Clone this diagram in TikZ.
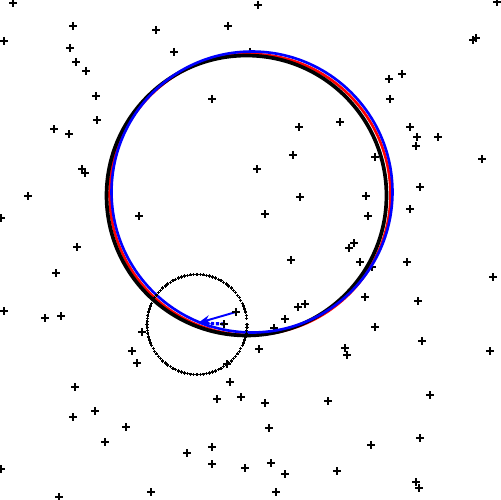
\documentclass[tikz,border=0pt]{standalone}
\usetikzlibrary{arrows.meta}
\begin{document}
\begin{tikzpicture}[x=0.02cm, y=-0.02cm, >=Stealth,
  pluspt/.style={line width=0.6pt},
  tinypt/.style={line width=0.7pt},
  fitline/.style={line width=2.1pt}]

\useasboundingbox (0,0) rectangle (500,500);

% Data points
\foreach \x/\y in {13/3,73/26,4/41,156/30,228/26,70/48,174/52,76/62,86/71,96/96,
    212/99,97/120,54/129,69/134,82/169,85/173,28/196,1/218,139/216,77/247,
    258/5,497/2,473/40,476/38,402/74,389/79,390/99,299/127,340/122,410/127,
    417/137,438/137,416/146,293/155,375/157,482/159,257/169,420/187,300/197,
    366/196,410/209,265/214,368/216,354/243,349/248,250/52,
    56/273,4/311,45/318,61/316,142/332,132/351,137/363,227/364,230/382,
    217/399,241/397,75/387,73/417,95/411,126/427,105/442,187/453,212/447,
    212/464,245/468,1/469,151/492,59/497,
    291/260,360/262,407/262,372/267,493/277,365/297,418/301,298/307,305/304,
    285/319,274/328,375/327,422/341,259/349,345/348,347/355,490/351,430/395,
    265/403,328/401,269/428,420/438,371/445,271/463,337/471,285/474,416/482,
    419/488,276/492}
  \draw[pluspt] (\x-4,\y) -- (\x+4,\y) (\x,\y-4) -- (\x,\y+4);

% Fitted circles
\draw[red, line width=1.5pt] (250,194.5) circle[radius=2.81cm];
\draw[black, fitline] (246.5,195.5) circle[radius=2.8cm];
\draw[blue, line width=1.5pt] (252,192) circle[radius=2.81cm];

% Neighbourhood of the touching point
\foreach \a in {0,3.6,...,356.4}
  \draw[tinypt] ([shift={(\a:50)}]197,324.5) ++(-1.6,0) -- ++(3.2,0) ++(-1.6,-1.6) -- ++(0,3.2);

% Correction vectors
\coordinate (touch) at (198,323);
\coordinate (tailA) at (236,312);
\coordinate (tailB) at (224,324);
\draw[blue, line width=1.1pt, -{Stealth[length=7pt,width=5pt]}] (tailA) -- (touch);
\draw[blue, line width=1.8pt, dash pattern=on 1.8pt off 1pt, -{Stealth[length=7pt,width=5pt]}] (tailB) -- (touch);
\foreach \p in {tailA,tailB}
  \draw[pluspt] (\p) ++(-4,0) -- ++(8,0) ++(-4,-4) -- ++(0,8);

\end{tikzpicture}
\end{document}
